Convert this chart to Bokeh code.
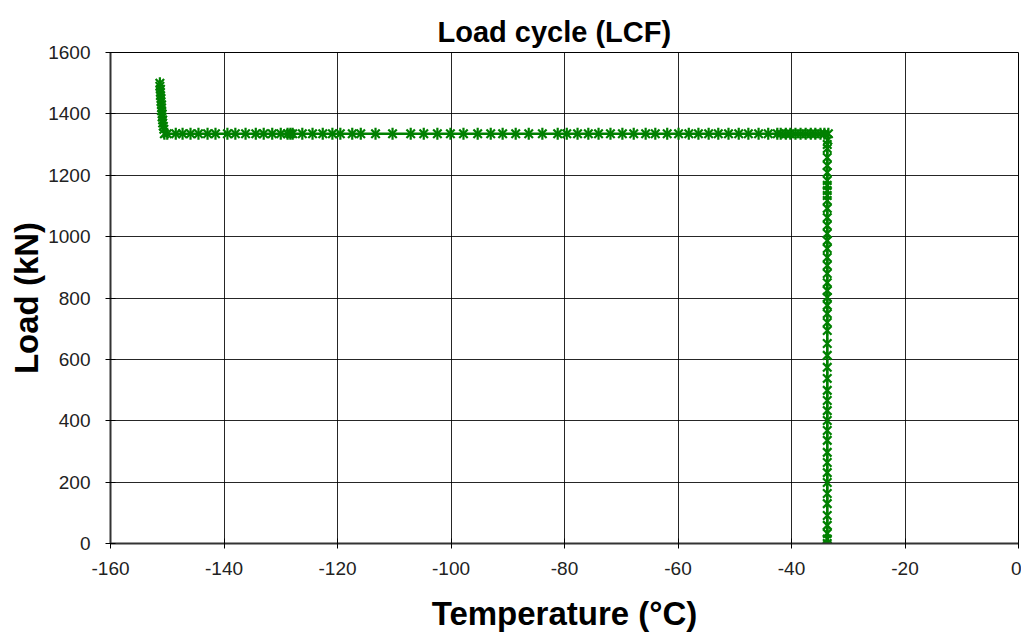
import math
from bokeh.plotting import figure
from bokeh.models import Range1d, FixedTicker
from bokeh.embed import file_html
from bokeh.resources import INLINE

# Segment 1: near-vertical rise at about -151 °C
temp_seg1 = [-151.3, -151.3, -151.2, -151.2, -151.2, -151.1, -151.1, -151.0, -151.0,
             -151.0, -150.9, -150.9, -150.8, -150.8, -150.7, -150.6, -150.5]
load_seg1 = [1500, 1490, 1480, 1470, 1460, 1450, 1440, 1430, 1420,
             1410, 1400, 1390, 1380, 1370, 1360, 1350, 1335]

# Segment 2: horizontal at about 1335 kN
temp_seg2 = [-150.0, -148.5, -147.3, -145.9, -144.5, -142.9, -141.5, -139.4, -138.0,
             -136.2, -134.4, -133.0, -131.5, -130.0, -128.8, -128.3, -127.9, -126.2,
             -124.4, -122.6, -120.9, -119.5, -117.4, -115.9, -113.3, -110.3, -107.1,
             -104.8, -102.4, -100.1, -97.8, -95.3, -93.0, -90.9, -88.6, -86.3, -83.9,
             -81.2, -79.6, -77.7, -75.8, -74.0, -71.9, -69.8, -67.8, -65.7, -64.0,
             -61.9, -59.9, -58.1, -56.4, -54.6, -52.9, -51.1, -49.3, -47.6, -45.8,
             -44.1, -42.5, -41.9, -41.0, -40.2, -39.3, -38.4, -37.5, -36.6, -35.8,
             -34.9, -34.2, -33.5]
load_seg2 = [1335] * len(temp_seg2)

# Segment 3: vertical unloading at about -33.7 °C
temp_seg3 = [-33.6, -33.7, -33.7, -33.7, -33.7, -33.7, -33.7, -33.7, -33.7, -33.7,
             -33.7, -33.7, -33.7, -33.7, -33.7, -33.7, -33.7, -33.7, -33.7, -33.7,
             -33.7, -33.7, -33.7, -33.7, -33.7, -33.7, -33.7, -33.7, -33.7, -33.7,
             -33.7, -33.7, -33.7, -33.7, -33.7, -33.7, -33.7, -33.7, -33.7, -33.7,
             -33.7, -33.7, -33.7, -33.7, -33.7, -33.7, -33.7, -33.7]
load_seg3 = [1315, 1300, 1287, 1258, 1232, 1209, 1183, 1167, 1150, 1134,
             1118, 1092, 1062, 1036, 1010, 987, 961, 932, 906, 880,
             850, 824, 802, 776, 749, 720, 694, 652, 613, 574,
             538, 499, 466, 433, 401, 368, 336, 297, 264, 231,
             199, 163, 130, 91, 59, 33, 15, 0]

x_ticks = [-160, -140, -120, -100, -80, -60, -40, -20, 0]
x_tick_labels = ["-160", "-140", "-120", "-100", "-80", "-60", "-40", "-20", "0"]
y_ticks = [0, 200, 400, 600, 800, 1000, 1200, 1400, 1600]

temps = temp_seg1 + temp_seg2 + temp_seg3
loads = load_seg1 + load_seg2 + load_seg3

GREEN = "#008000"
FONT = "Liberation Sans"

p = figure(width=1021, height=635, output_backend="svg", toolbar_location=None,
           x_range=Range1d(-160, 0), y_range=Range1d(0, 1600),
           min_border_left=110, min_border_right=3, min_border_top=52, min_border_bottom=92)

p.title.text = "Load cycle (LCF)"
p.title.align = "left"
p.title.offset = 327
p.title.standoff = 10
p.title.text_font = FONT
p.title.text_font_size = "29px"
p.title.text_font_style = "bold"
p.title.text_color = "black"

p.background_fill_color = "white"
p.border_fill_color = "white"
p.outline_line_color = "black"
p.outline_line_width = 1

p.xaxis.ticker = FixedTicker(ticks=x_ticks)
p.yaxis.ticker = FixedTicker(ticks=y_ticks)
p.xaxis.major_label_overrides = dict(zip(x_ticks, x_tick_labels))
p.xgrid.ticker = FixedTicker(ticks=x_ticks)
p.ygrid.ticker = FixedTicker(ticks=y_ticks)
for g in (p.xgrid, p.ygrid):
    g.grid_line_color = "black"
    g.grid_line_width = 1
    g.grid_line_alpha = 0.85

for ax in (p.xaxis, p.yaxis):
    ax.axis_line_color = "#333333"
    ax.axis_line_width = 2
    ax.major_tick_line_color = "black"
    ax.major_tick_in = 5
    ax.major_tick_out = 5
    ax.minor_tick_line_color = None
    ax.major_label_text_font = FONT
    ax.major_label_text_font_size = "19px"
    ax.major_label_text_color = "#222222"
    ax.axis_label_text_font = FONT
    ax.axis_label_text_font_size = "33px"
    ax.axis_label_text_font_style = "bold"
    ax.axis_label_text_color = "black"

p.xaxis.axis_label = "Temperature (°C)"
p.yaxis.axis_label = "Load (kN)"
p.xaxis.major_label_standoff = 13
p.xaxis.axis_label_standoff = 17
p.yaxis.major_label_standoff = 15
p.yaxis.axis_label_standoff = 0

p.line(temps, loads, line_color=GREEN, line_width=2.5)
p.scatter(temps, loads, marker="x", size=12, line_color=GREEN, line_width=2.2)
p.scatter(temps, loads, marker="dash", angle=math.pi / 2, size=12, line_color=GREEN, line_width=2.2)

open("out.html", "w").write(file_html(p, INLINE))
